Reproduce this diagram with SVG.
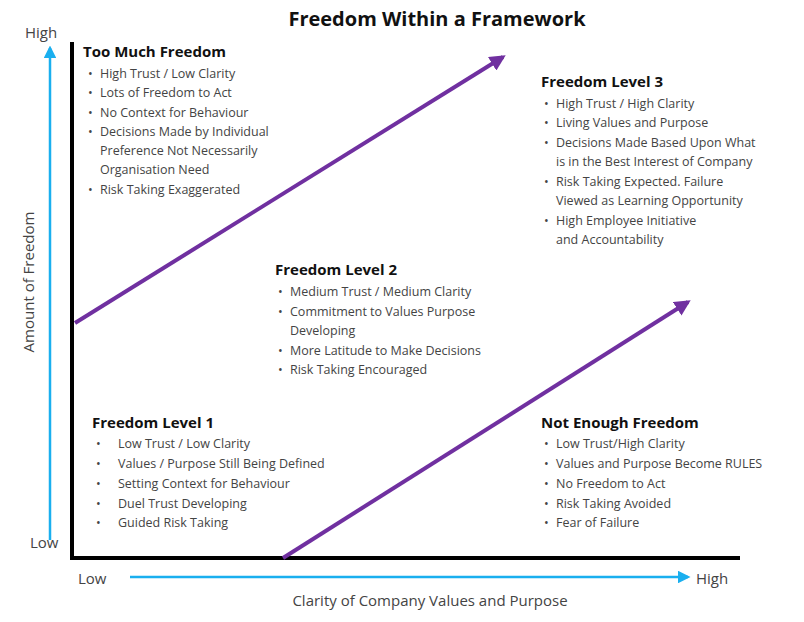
<svg xmlns="http://www.w3.org/2000/svg" width="804" height="622" viewBox="0 0 804 622">
<style>
text{font-family:"Open Sans","Liberation Sans",sans-serif}
.h{font-size:15px;font-weight:bold;fill:#111}
.b{font-size:12.5px;fill:#444}
.ax{font-size:15px;fill:#444}
</style>
<defs>
<marker id="pa" viewBox="0 0 10 10" refX="8" refY="5" markerWidth="4" markerHeight="4" orient="auto"><path d="M0,0L10,5L0,10z" fill="#7030A0"/></marker>
<marker id="ba" viewBox="0 0 10 10" refX="8" refY="5" markerWidth="5" markerHeight="5" orient="auto"><path d="M0,0L10,5L0,10z" fill="#1AAFEF"/></marker>
</defs>
<rect width="804" height="622" fill="#fff"/>
<text x="437" y="26" text-anchor="middle" style="font-size:20px;font-weight:bold" fill="#111">Freedom Within a Framework</text>
<g id="connectors">
<line x1="50" y1="540" x2="50" y2="48" stroke="#1AAFEF" stroke-width="2.5" marker-end="url(#ba)"/>
<line x1="130" y1="577" x2="688" y2="577" stroke="#1AAFEF" stroke-width="2.5" marker-end="url(#ba)"/>
<path d="M72,42V558H740" fill="none" stroke="#000" stroke-width="4"/>
<line x1="75" y1="323" x2="503" y2="57" stroke="#7030A0" stroke-width="4" marker-end="url(#pa)"/>
<line x1="283" y1="558" x2="688" y2="302" stroke="#7030A0" stroke-width="4" marker-end="url(#pa)"/>
</g>
<g id="axes-labels">
<text x="25" y="38" class="ax">High</text>
<text x="30" y="548" class="ax">Low</text>
<text x="78" y="584" class="ax">Low</text>
<text x="696" y="584" class="ax">High</text>
<text x="430" y="606" class="ax" text-anchor="middle">Clarity of Company Values and Purpose</text>
<text transform="translate(34,282) rotate(-90)" class="ax" text-anchor="middle">Amount of Freedom</text>
</g>
<g id="too-much">
<text x="83" y="57" class="h">Too Much Freedom</text>
<g class="b"><text x="88" y="78">•</text><text x="100" y="78">High Trust / Low Clarity</text>
<text x="88" y="97">•</text><text x="100" y="97">Lots of Freedom to Act</text>
<text x="88" y="117">•</text><text x="100" y="117">No Context for Behaviour</text>
<text x="88" y="136">•</text><text x="100" y="136">Decisions Made by Individual</text>
<text x="100" y="155">Preference Not Necessarily</text>
<text x="100" y="174">Organisation Need</text>
<text x="88" y="194">•</text><text x="100" y="194">Risk Taking Exaggerated</text></g>
</g>
<g id="level3">
<text x="541" y="87" class="h">Freedom Level 3</text>
<g class="b"><text x="544" y="108">•</text><text x="556" y="108">High Trust / High Clarity</text>
<text x="544" y="127">•</text><text x="556" y="127">Living Values and Purpose</text>
<text x="544" y="147">•</text><text x="556" y="147">Decisions Made Based Upon What</text>
<text x="556" y="166">is in the Best Interest of Company</text>
<text x="544" y="186">•</text><text x="556" y="186">Risk Taking Expected. Failure</text>
<text x="556" y="205">Viewed as Learning Opportunity</text>
<text x="544" y="225">•</text><text x="556" y="225">High Employee Initiative</text>
<text x="556" y="244">and Accountability</text></g>
</g>
<g id="level2">
<text x="275" y="275" class="h">Freedom Level 2</text>
<g class="b"><text x="278" y="296">•</text><text x="290" y="296">Medium Trust / Medium Clarity</text>
<text x="278" y="316">•</text><text x="290" y="316">Commitment to Values Purpose</text>
<text x="290" y="335">Developing</text>
<text x="278" y="355">•</text><text x="290" y="355">More Latitude to Make Decisions</text>
<text x="278" y="374">•</text><text x="290" y="374">Risk Taking Encouraged</text></g>
</g>
<g id="level1">
<text x="92" y="428" class="h">Freedom Level 1</text>
<g class="b"><text x="96" y="448">•</text><text x="118" y="448">Low Trust / Low Clarity</text>
<text x="96" y="468">•</text><text x="118" y="468">Values / Purpose Still Being Defined</text>
<text x="96" y="488">•</text><text x="118" y="488">Setting Context for Behaviour</text>
<text x="96" y="508">•</text><text x="118" y="508">Duel Trust Developing</text>
<text x="96" y="527">•</text><text x="118" y="527">Guided Risk Taking</text></g>
</g>
<g id="not-enough">
<text x="541" y="428" class="h">Not Enough Freedom</text>
<g class="b"><text x="544" y="448">•</text><text x="556" y="448">Low Trust/High Clarity</text>
<text x="544" y="468">•</text><text x="556" y="468">Values and Purpose Become RULES</text>
<text x="544" y="488">•</text><text x="556" y="488">No Freedom to Act</text>
<text x="544" y="508">•</text><text x="556" y="508">Risk Taking Avoided</text>
<text x="544" y="527">•</text><text x="556" y="527">Fear of Failure</text></g>
</g>
</svg>
